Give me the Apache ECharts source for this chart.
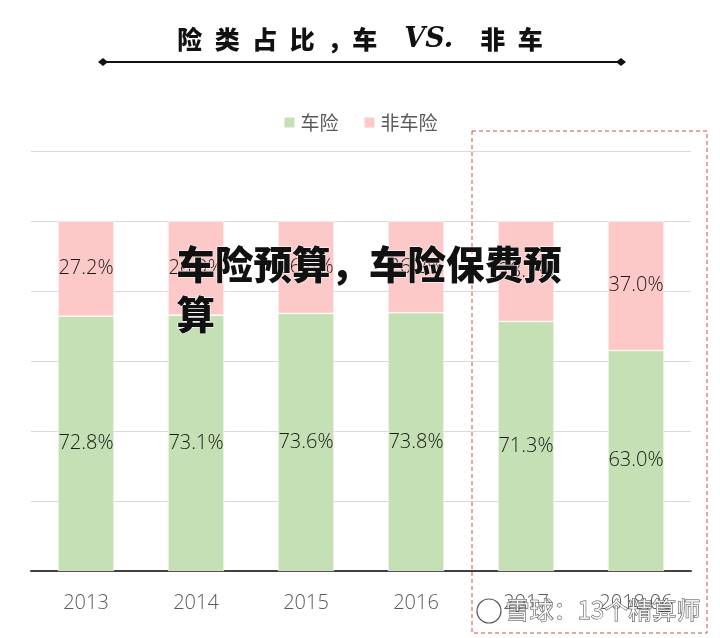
<!DOCTYPE html>
<html>
<head>
<meta charset="utf-8">
<script src="https://cdn.jsdelivr.net/npm/echarts@6/dist/echarts.min.js"></script>
<style>
  html, body { margin: 0; padding: 0; background: #fff; }
  #chart { width: 720px; height: 638px; }
</style>
</head>
<body>
<div id="chart"></div>
<script>
// data
var years = ['2013', '2014', '2015', '2016', '2017', '2018.06'];
var carShare = [72.8, 73.1, 73.6, 73.8, 71.3, 63.0];
var nonCarShare = [27.2, 26.9, 26.4, 26.2, 28.7, 37.0];
var seriesNames = ['车险', '非车险'];

var GREEN = '#c5e0b4';
var PINK = '#fcc8c8';
var LABEL_FONT = '"Open Sans", "Noto Sans", sans-serif';

function bar_series(name, data, color){
    return {
        type: 'bar',
        name: name,
        stack: 'share',
        data: data,
        barWidth: '51%',
        itemStyle: {
            color: color,
            borderColor: '#ffffff',
            borderWidth: 0.6
        },
        label: {
            show: true,
            position: 'inside',
            formatter: function (p) { return p.value.toFixed(1) + '%'; },
            color: '#1a1a1a',
            fontSize: 20,
            fontWeight: 300,
            fontFamily: LABEL_FONT
        }
    };
}

var chart = echarts.init(document.getElementById('chart'));

var options = {
    animation: false,
    backgroundColor: '#ffffff',
    legend: {
        data: seriesNames,
        top: 108,
        left: 'center',
        itemWidth: 12,
        itemHeight: 12,
        itemGap: 24,
        icon: 'rect',
        textStyle: {
            color: '#595959',
            fontSize: 19,
            fontFamily: '"Noto Sans CJK SC", sans-serif'
        }
    },
    grid: {
        left: 31,
        right: 29,
        top: 151,
        bottom: 67,
        containLabel: false
    },
    xAxis: {
        type: 'category',
        data: years,
        axisLine: { lineStyle: { color: '#404040', width: 2 } },
        axisTick: { show: false },
        axisLabel: {
            color: '#595959',
            fontSize: 20,
            fontWeight: 300,
            fontFamily: LABEL_FONT,
            margin: 22
        }
    },
    yAxis: {
        type: 'value',
        min: 0,
        max: 120,
        interval: 20,
        axisLabel: { show: false },
        axisLine: { show: false },
        axisTick: { show: false },
        splitLine: { lineStyle: { color: '#d9d9d9', width: 1 } }
    },
    series: [
        bar_series(seriesNames[0], carShare, GREEN),
        bar_series(seriesNames[1], nonCarShare, PINK)
    ],
    graphic: [
        // heading
        {
            type: 'text',
            left: 'center',
            top: 26,
            style: {
                text: '{c|险\u2002类\u2002占\u2002比\u2002，车}{v|\u2003VS.\u2003}{c|非\u2002车}',
                rich: {
                    c: {
                        fontSize: 25,
                        fontWeight: 900,
                        fontFamily: '"Noto Sans CJK SC", sans-serif',
                        fill: '#111111'
                    },
                    v: {
                        fontSize: 27,
                        fontWeight: 'bold',
                        fontStyle: 'italic',
                        fontFamily: '"DejaVu Serif", serif',
                        fill: '#111111'
                    }
                }
            }
        },
        {
            type: 'line',
            shape: { x1: 102, y1: 62, x2: 620, y2: 62 },
            style: { stroke: '#111111', lineWidth: 2 }
        },
        {
            type: 'polygon',
            shape: { points: [[98, 62], [103, 58], [108, 62], [103, 66]] },
            style: { fill: '#111111' }
        },
        {
            type: 'polygon',
            shape: { points: [[616, 62], [621, 58], [626, 62], [621, 66]] },
            style: { fill: '#111111' }
        },
        // dashed box around the last two years
        {
            type: 'rect',
            shape: { x: 472, y: 131, width: 235, height: 502 },
            style: { fill: 'none', stroke: '#c0504d', lineWidth: 1, lineDash: [4, 3] },
            z: 10
        },
        // overlay caption
        {
            type: 'text',
            left: 176,
            top: 239,
            z: 20,
            style: {
                text: '车险预算，车险保费预\n算',
                fontSize: 38.5,
                fontWeight: 900,
                lineHeight: 50,
                fontFamily: '"Noto Sans CJK SC", sans-serif',
                fill: '#111111',
                stroke: '#ffffff',
                lineWidth: 1
            }
        },
        // watermark bottom right
        {
            type: 'circle',
            shape: { cx: 489, cy: 611, r: 12 },
            style: { fill: 'rgba(255,255,255,0.6)', stroke: '#555555', lineWidth: 1.2 },
            z: 20
        },
        {
            type: 'text',
            left: 505,
            top: 597,
            z: 20,
            style: {
                text: '雪球：13个精算师',
                fontSize: 24,
                fontFamily: '"Noto Sans CJK SC", sans-serif',
                fill: 'rgba(255,255,255,0.85)',
                stroke: '#444444',
                lineWidth: 1
            }
        }
    ]
};

chart.setOption(options);
</script>
</body>
</html>
